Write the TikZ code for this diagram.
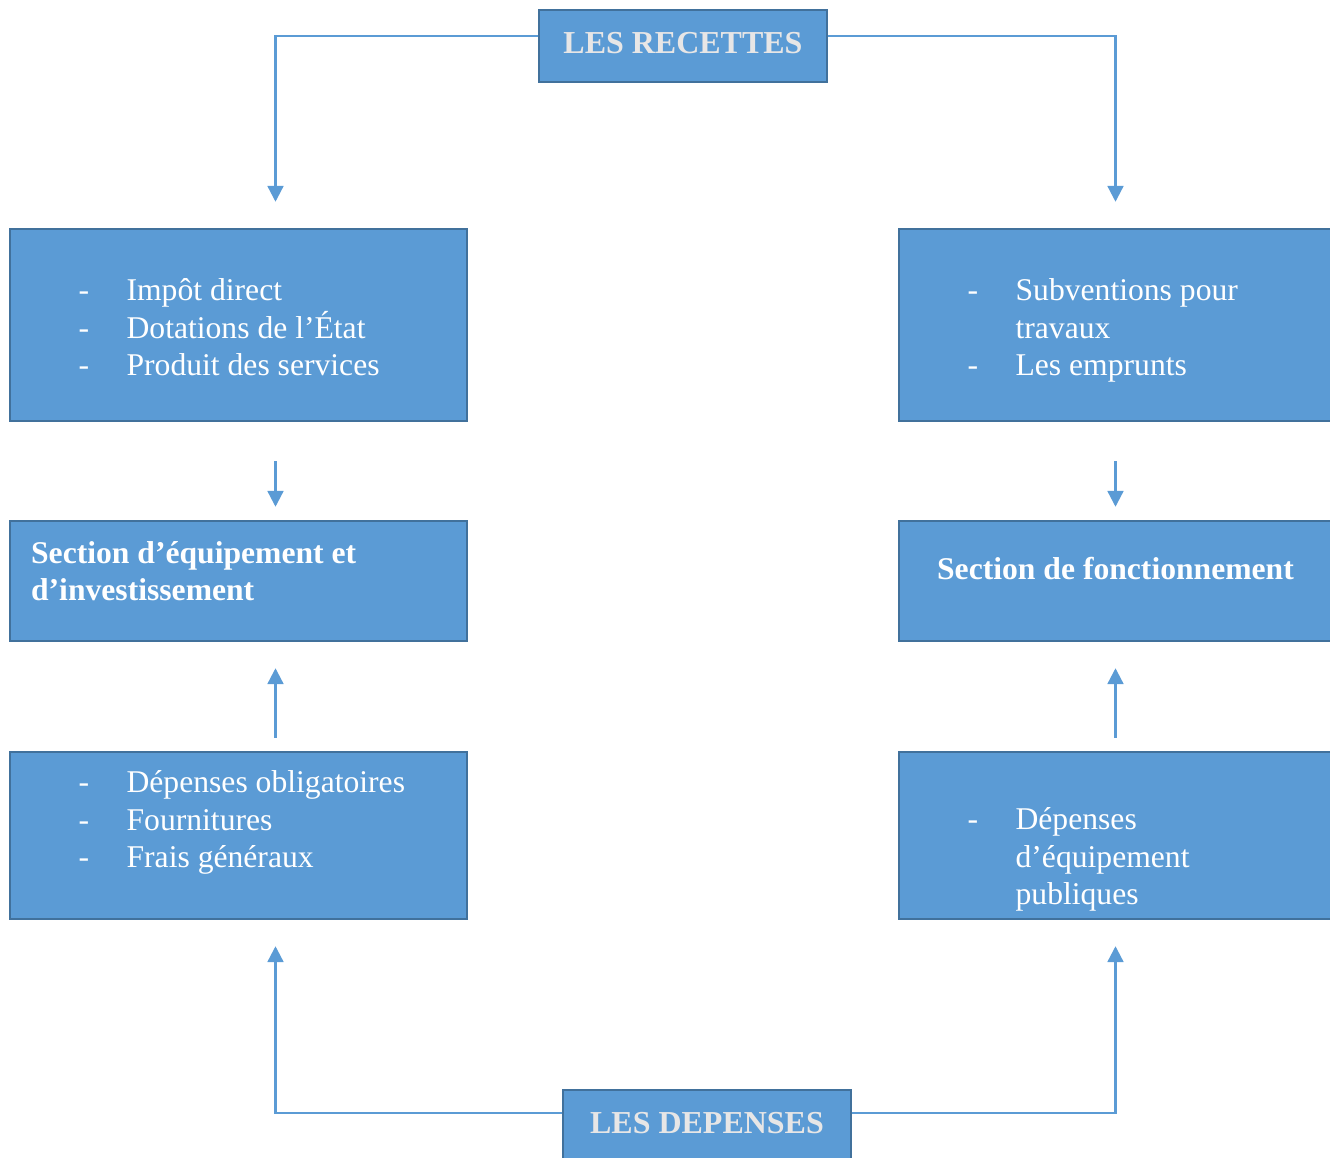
\documentclass[tikz,border=0pt]{standalone}
\usepackage{fontspec}
\setmainfont{Liberation Serif}
\usepackage{tikz}
\usetikzlibrary{arrows.meta, positioning, calc}

\definecolor{fondbleu}{HTML}{5B9BD5}
\definecolor{bordbleu}{HTML}{41719C}
\definecolor{titregris}{HTML}{E7E6E6}

\newcommand{\tiret}{\makebox[0.96cm][l]{-}}
\newcommand{\suite}{\hspace*{0.96cm}}

\begin{document}
\begin{tikzpicture}[
    bloc/.style={draw=bordbleu, fill=fondbleu, line width=1.4pt, inner sep=0pt},
    titre/.style={bloc, text=titregris, font=\fontsize{18.2}{20}\selectfont\bfseries,
      minimum width=5.76cm, minimum height=1.44cm, text depth=0.14cm},
    liste/.style={text=white, align=left, inner sep=0pt, font=\fontsize{18}{21.3}\selectfont},
    rubrique/.style={text=white, align=left, inner sep=0pt, font=\fontsize{18}{21.3}\selectfont\bfseries},
    fleche/.style={draw=fondbleu, line width=1.3pt, -{Triangle[width=9pt, length=9pt]}}
  ]
    \useasboundingbox (0,0) rectangle (26.6,-23.16);
    \clip (0,0) rectangle (26.6,-23.16);

    % colonnes des fleches
    \coordinate (colG) at (5.51, 0);
    \coordinate (colD) at (22.31, 0);

    \node[titre] (recettes) at (13.66, -0.92) {LES RECETTES};
    \node[titre] (depenses) at (14.14, -22.52) {LES DEPENSES};

    \node[bloc, minimum width=9.14cm, minimum height=3.84cm] (impots) at (4.77, -6.50) {};
    \node[bloc, minimum width=8.82cm, minimum height=3.84cm] (subv) at (22.39, -6.50) {};
    \node[bloc, minimum width=9.14cm, minimum height=2.40cm] (equip) at (4.77, -11.62) {};
    \node[bloc, minimum width=8.82cm, minimum height=2.40cm] (fonct) at (22.39, -11.62) {};
    \node[bloc, minimum width=9.14cm, minimum height=3.34cm] (depG) at (4.77, -16.71) {};
    \node[bloc, minimum width=8.82cm, minimum height=3.34cm] (depD) at (22.39, -16.71) {};

    % textes des blocs (base = ligne du bas)
    \node[liste, anchor=base west] (impotsTxt) at ($(impots.north west)+(1.39,-2.96)$)
      {\tiret Impôt direct\\ \tiret Dotations de l’État\\ \tiret Produit des services};
    \node[liste, anchor=base west] (subvTxt) at ($(subv.north west)+(1.39,-2.96)$)
      {\tiret Subventions pour\\ \suite travaux\\ \tiret Les emprunts};
    \node[rubrique, anchor=base west] (equipTxt) at ($(equip.north west)+(0.44,-1.62)$)
      {Section d’équipement et\\ d’investissement};
    \node[rubrique, anchor=base] (fonctTxt) at ($(fonct.north -| colD)+(0,-1.20)$)
      {Section de fonctionnement};
    \node[liste, anchor=base west] (depGTxt) at ($(depG.north west)+(1.39,-2.34)$)
      {\tiret Dépenses obligatoires\\ \tiret Fournitures\\ \tiret Frais généraux};
    \node[liste, anchor=base west] (depDTxt) at ($(depD.north west)+(1.39,-3.08)$)
      {\tiret Dépenses\\ \suite d’équipement\\ \suite publiques};

    % fleches
    \draw[fleche] ([yshift=0.2cm]recettes.west) -| ($(impots.north -| colG)+(0,0.52)$);
    \draw[fleche] ([yshift=0.2cm]recettes.east) -| ($(subv.north -| colD)+(0,0.52)$);
    \draw[fleche] ($(impots.south -| colG)+(0,-0.78)$) -- ($(equip.north -| colG)+(0,0.26)$);
    \draw[fleche] ($(subv.south -| colD)+(0,-0.78)$) -- ($(fonct.north -| colD)+(0,0.26)$);
    \draw[fleche] ($(depG.north -| colG)+(0,0.26)$) -- ($(equip.south -| colG)+(0,-0.52)$);
    \draw[fleche] ($(depD.north -| colD)+(0,0.26)$) -- ($(fonct.south -| colD)+(0,-0.52)$);
    \draw[fleche] ([yshift=0.26cm]depenses.west) -| ($(depG.south -| colG)+(0,-0.52)$);
    \draw[fleche] ([yshift=0.26cm]depenses.east) -| ($(depD.south -| colD)+(0,-0.52)$);

\end{tikzpicture}
\end{document}
